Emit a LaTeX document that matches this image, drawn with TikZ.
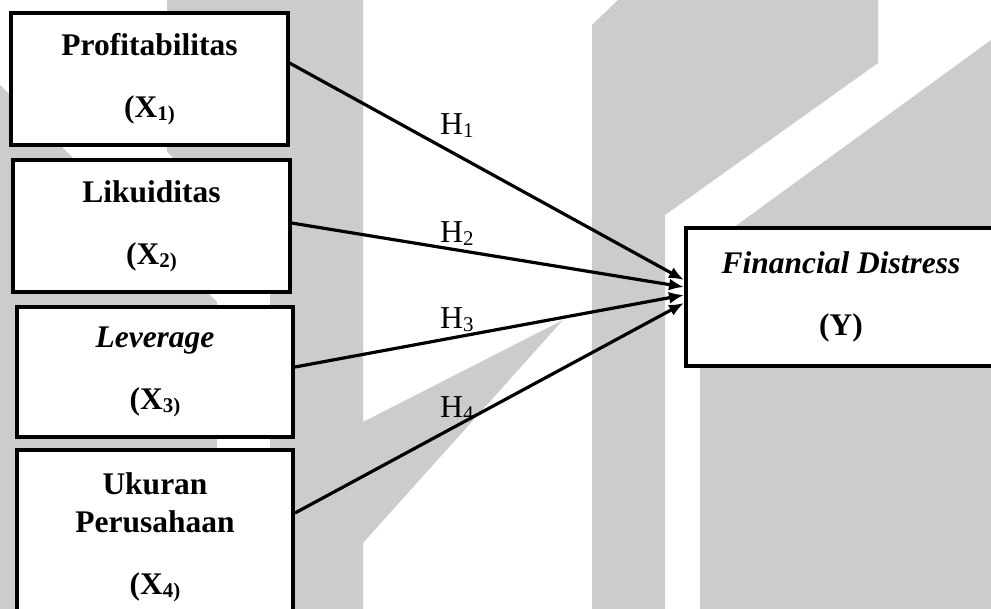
\documentclass[tikz,border=0pt]{standalone}
\usepackage{fontspec}
\setmainfont{Liberation Serif}
\usetikzlibrary{arrows.meta}
\definecolor{wmgray}{HTML}{CCCCCC}
\newcommand{\lowsub}[1]{\raisebox{-3bp}{\fontsize{21}{21}\selectfont #1}}
\tikzstyle{varbox} = [rectangle, minimum width=276bp, draw=black, line width=4bp, fill=white, text centered, align=center, font=\fontsize{31.6}{38}\selectfont\bfseries]
\tikzstyle{depbox} = [varbox, minimum width=310bp, minimum height=138bp]
\tikzstyle{hlabel} = [inner sep=0pt, anchor=base west, font=\fontsize{32}{38}\selectfont]
\tikzstyle{arrow} = [line width=3.2bp, -{Latex[length=15bp,width=12bp]}]
\tikzstyle{wm} = [fill=wmgray, draw=none]

\begin{document}
\begin{tikzpicture}[x=1bp, y=-1bp]
\useasboundingbox (0,0) rectangle (991,609);
\clip (0,0) rectangle (991,609);
\fill[white] (0,0) rectangle (991,609);

% watermark in the back
\fill[wm] (167,0) -- (363,0) -- (363,422) -- (563,320) -- (363,543) -- (363,609) -- (270,609) -- (270,255) -- (167,152) -- cycle;
\fill[wm] (0,85) -- (217,302) -- (217,609) -- (0,609) -- cycle;
\fill[wm] (592,25) -- (618,0) -- (878,0) -- (878,63) -- (665,215) -- (665,609) -- (592,609) -- cycle;
\fill[wm] (700,252) -- (991,40) -- (991,609) -- (700,609) -- cycle;

\node (x1) [varbox, minimum height=132bp] at (149.5,79) {Profitabilitas\\[24bp](X\lowsub{1)}};
\node (x2) [varbox, minimum height=132bp] at (151.5,226) {Likuiditas\\[24bp](X\lowsub{2)}};
\node (x3) [varbox, minimum height=130bp] at (155,372) {\textit{Leverage}\\[24bp](X\lowsub{3)}};
\node (x4) [varbox, minimum height=174bp] at (155,537) {Ukuran\\Perusahaan\\[24bp](X\lowsub{4)}};
\node (y) [depbox] at (841,297) {\textit{Financial Distress}\\[24bp](Y)};

\draw [arrow] ([yshift=16bp]x1.east) -- ([yshift=17bp]y.west);
\draw [arrow] ([yshift=3bp]x2.east) -- ([yshift=10bp]y.west);
\draw [arrow] ([yshift=5bp]x3.east) -- ([yshift=2bp]y.west);
\draw [arrow] ([yshift=24bp]x4.east) -- ([yshift=-6bp]y.west);

\node (h1) [hlabel] at (440,135) {H\lowsub{1}};
\node (h2) [hlabel] at (440,243) {H\lowsub{2}};
\node (h3) [hlabel] at (440,328) {H\lowsub{3}};
\node (h4) [hlabel] at (440,417) {H\lowsub{4}};

\end{tikzpicture}
\end{document}
